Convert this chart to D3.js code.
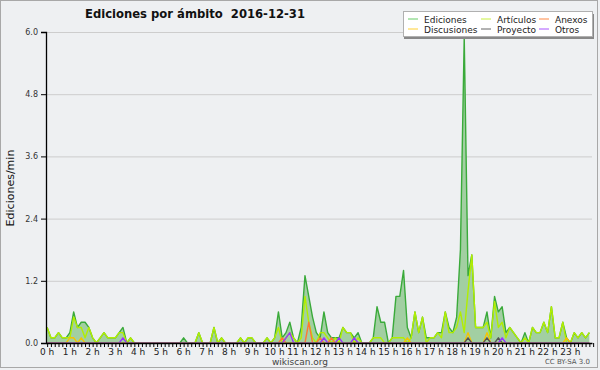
<!DOCTYPE html>
<html>
<head>
<meta charset="utf-8">
<script src="https://cdn.jsdelivr.net/npm/d3@7"></script>
<style>
	body { margin: 0; background: #fff; }
	svg { display: block; }
</style>
</head>
<body>
<div id="chart"></div>
<script>
/* Ediciones por ámbito, 10 minute bins (edits per minute) */

var hourLabels = ["0 h", "1 h", "2 h", "3 h", "4 h", "5 h", "6 h", "7 h", "8 h", "9 h", "10 h", "11 h",
	"12 h", "13 h", "14 h", "15 h", "16 h", "17 h", "18 h", "19 h", "20 h", "21 h", "22 h", "23 h"];

var yTicks = [0, 1.2, 2.4, 3.6, 4.8, 6.0];

var ediciones = [
	0.3,0.1,0.1,0.2,0.1,0.1, 0.2,0.6,0.3,0.4,0.4,0.3,
	0.1,0,0.1,0.2,0.1,0.1, 0.1,0.2,0.3,0,0.1,0,
	0,0,0,0,0,0, 0,0,0,0,0,0,
	0.1,0,0,0,0.2,0, 0,0,0.3,0,0.1,0,
	0,0,0,0.1,0,0.1, 0.1,0,0,0,0.1,0,
	0.1,0.6,0.1,0.2,0.4,0.1, 0,0.3,1.3,0.9,0.5,0.2,
	0.1,0.6,0.2,0.1,0.1,0.1, 0.3,0.2,0.2,0.1,0.2,0,
	0,0,0.1,0.7,0.4,0.4, 0,0.1,0.9,0.9,1.4,0.3,
	0.1,0.6,0.2,0.5,0.1,0.1, 0.1,0.2,0.2,0.6,0.3,0.2,
	0.5,1.8,5.9,1.3,1.7,0.3, 0.3,0.3,0.6,0.1,0.9,0.6,
	0.7,0.2,0.3,0.2,0.1,0, 0.2,0,0.3,0.2,0.2,0.4,
	0.2,0.7,0.1,0.1,0.4,0.1, 0,0.2,0.1,0.2,0.1,0.2
];

var articulos = [
	0.3,0.1,0.1,0.2,0.1,0.1, 0.1,0.5,0.3,0.3,0.1,0.3,
	0.1,0,0.1,0.2,0.1,0.1, 0.1,0.2,0.2,0,0.1,0,
	0,0,0,0,0,0, 0,0,0,0,0,0,
	0,0,0,0,0.2,0, 0,0,0.3,0,0.1,0,
	0,0,0,0.1,0,0.1, 0.1,0,0,0,0.1,0,
	0.1,0.3,0,0.1,0.2,0.1, 0,0.1,0.9,0.4,0.1,0,
	0.2,0.2,0.1,0,0.1,0, 0.3,0.2,0.2,0,0.1,0,
	0,0,0.1,0.1,0.1,0, 0,0.1,0.1,0.1,0.1,0,
	0.1,0.6,0.2,0.5,0,0.1, 0.1,0.2,0.1,0.6,0.2,0.2,
	0.3,0.6,0.2,1.0,1.7,0.3, 0.3,0.3,0.4,0.1,0.8,0.3,
	0.4,0.1,0.3,0.2,0.1,0, 0.1,0,0.3,0.2,0.2,0.4,
	0.2,0.7,0.1,0.1,0.4,0, 0,0.2,0.1,0.2,0.1,0.2
];

var anexos = [
	0,0,0,0,0,0, 0,0,0,0,0,0,
	0,0,0,0,0,0, 0,0,0,0,0,0,
	0,0,0,0,0,0, 0,0,0,0,0,0,
	0,0,0,0,0,0, 0,0,0,0,0,0,
	0,0,0,0,0,0, 0,0,0,0,0,0,
	0,0,0.1,0,0,0, 0,0,0,0.4,0,0,
	0.1,0,0,0.1,0,0, 0,0,0,0,0,0,
	0,0,0,0,0,0, 0,0,0,0,0,0,
	0,0,0,0,0,0, 0,0,0,0,0,0,
	0,0,0,0,0,0, 0,0,0,0,0,0,
	0,0,0,0,0,0, 0,0,0,0,0,0,
	0,0,0,0,0,0, 0,0,0,0,0,0
];

var discusiones = [
	0,0,0,0,0,0, 0.1,0.1,0,0.1,0,0,
	0,0,0,0,0,0, 0,0,0,0,0,0,
	0,0,0,0,0,0, 0,0,0,0,0,0,
	0,0,0,0,0,0, 0,0,0,0,0,0,
	0,0,0,0,0,0, 0,0,0,0,0,0,
	0,0,0,0,0,0, 0,0,0,0,0,0,
	0,0,0,0,0,0, 0,0,0,0,0,0,
	0,0,0,0,0,0, 0,0,0,0,0,0.1,
	0,0,0,0,0,0, 0,0,0,0,0,0,
	0,0,0,0.2,0,0, 0,0,0.2,0,0,0,
	0,0,0,0,0,0, 0,0,0,0,0,0,
	0,0,0,0,0,0.1, 0,0,0,0,0,0
];

var proyecto = [
	0,0,0,0,0,0, 0,0,0,0,0,0,
	0,0,0,0,0,0, 0,0,0,0,0,0,
	0,0,0,0,0,0, 0,0,0,0,0,0,
	0,0,0,0,0,0, 0,0,0,0,0,0,
	0,0,0,0,0,0, 0,0,0,0,0,0,
	0,0,0,0,0,0, 0,0,0,0,0,0,
	0,0,0,0,0,0, 0,0,0,0,0,0,
	0,0,0,0,0,0, 0,0,0,0,0,0,
	0,0,0,0,0,0, 0,0,0,0,0,0,
	0,0,0,0.1,0,0, 0,0,0.1,0,0,0.1,
	0,0,0,0,0,0, 0,0,0,0,0,0,
	0,0,0,0,0,0, 0,0,0,0,0,0
];

var otros = [
	0,0,0,0,0,0, 0,0,0,0,0,0,
	0,0,0,0,0,0, 0,0,0.1,0,0,0,
	0,0,0,0,0,0, 0,0,0,0,0,0,
	0,0,0,0,0,0, 0,0,0,0,0,0,
	0,0,0,0,0,0, 0,0,0,0,0,0,
	0,0,0,0.1,0.2,0, 0,0,0,0,0,0,
	0,0.1,0,0,0,0.1, 0,0,0,0.1,0,0,
	0,0,0,0,0,0, 0,0,0,0,0,0,
	0,0,0,0,0,0, 0,0,0,0,0,0,
	0,0,0,0,0,0, 0,0,0,0,0,0,
	0.1,0,0,0,0,0, 0,0,0,0,0,0,
	0,0,0,0,0,0, 0,0,0,0,0,0
];

var width = 600,
	height = 370,
	plot = { left: 46, right: 592, top: 32, bottom: 343 };

var svg = d3.select("#chart").append("svg")
	.attr("width", width)
	.attr("height", height)
	.style("font-family", "DejaVu Sans, sans-serif");

// background + frame
svg.append("rect").attr("x", 0).attr("y", 0).attr("width", width).attr("height", height).attr("fill", "#eef0f2");
svg.append("rect").attr("x", 0.5).attr("y", 0.5).attr("width", 597).attr("height", 367)
	.attr("fill", "none").attr("stroke", "#a8a8a8");

svg.append("clipPath").attr("id", "plotclip")
	.append("rect").attr("x", plot.left).attr("y", 0)
	.attr("width", plot.right - plot.left + 2).attr("height", plot.bottom - 0.6);

var x = d3.scaleLinear().domain([-0.3, 143.7]).range([plot.left, plot.right]);
var y = d3.scaleLinear().domain([0, 6]).range([plot.bottom, plot.top]);

/* grid */
svg.append("g").selectAll("line")
	.data(yTicks.filter(function(d) { return d > 0; }))
	.enter().append("line")
	.attr("x1", plot.left).attr("x2", plot.right)
	.attr("y1", function(d) { return y(d) + 0.5; })
	.attr("y2", function(d) { return y(d) + 0.5; })
	.attr("stroke", "#cdcdcd");

/* series */
var area = d3.area()
	.x(function(d, i) { return x(i); })
	.y0(y(0))
	.y1(function(d) { return y(d); });
var line = d3.line()
	.x(function(d, i) { return x(i); })
	.y(function(d) { return y(d); });

var marks = svg.append("g").attr("clip-path", "url(#plotclip)");
marks.append("path").datum(ediciones).attr("d", area).attr("fill", "#a2cfa2");

var series = [
	{ label: "Ediciones", values: ediciones, color: "#3aaa3a", key: "#66cc66" },
	{ label: "Artículos", values: articulos, color: "#b2ee00", key: "#c8f040" },
	{ label: "Anexos", values: anexos, color: "#ff7733", key: "#ff8844" },
	{ label: "Discusiones", values: discusiones, color: "#f5c400", key: "#ffd033" },
	{ label: "Proyecto", values: proyecto, color: "#555555", key: "#666666" },
	{ label: "Otros", values: otros, color: "#9933ff", key: "#aa55ff" }
];

marks.selectAll("path.serie")
	.data(series)
	.enter().append("path")
	.attr("class", "serie")
	.attr("d", function(d) { return line(d.values); })
	.attr("fill", "none")
	.attr("stroke", function(d) { return d.color; })
	.attr("stroke-width", 1.4)
	.attr("stroke-linejoin", "round");

/* axes */
var yAxis = svg.append("g").attr("transform", "translate(" + plot.left + ",0)");
yAxis.call(d3.axisLeft(y).tickValues(d3.range(0, 6.01, 0.3)).tickSize(3).tickFormat(""));
yAxis.call(d3.axisLeft(y).tickValues(yTicks).tickSize(5).tickFormat(d3.format(".1f")));
yAxis.selectAll(".domain").attr("stroke", "#000").attr("stroke-width", 1.3);
yAxis.selectAll("text").attr("font-size", 8).attr("fill", "#333").attr("font-family", "DejaVu Sans, sans-serif");

var xAxis = svg.append("g").attr("transform", "translate(0," + plot.bottom + ")");
xAxis.call(d3.axisBottom(x).tickValues(d3.range(0, 145)).tickSize(4).tickFormat("").tickSizeOuter(0));
xAxis.selectAll(".domain").attr("stroke", "#000").attr("stroke-width", 1.3);

svg.append("g").selectAll("text")
	.data(hourLabels)
	.enter().append("text")
	.attr("x", function(d, i) { return x(i * 6); })
	.attr("y", 355)
	.attr("text-anchor", "middle")
	.attr("font-size", 9)
	.attr("fill", "#222")
	.text(function(d) { return d; });

/* texts */
svg.append("text")
	.attr("x", 85).attr("y", 18)
	.attr("font-size", 11.6).attr("font-weight", "bold").attr("fill", "#111")
	.attr("xml:space", "preserve")
	.text("Ediciones por ámbito  2016-12-31");

svg.append("text")
	.attr("transform", "translate(14,188) rotate(-90)")
	.attr("text-anchor", "middle")
	.attr("font-size", 11).attr("fill", "#111")
	.text("Ediciones/min");

svg.append("text")
	.attr("x", 300).attr("y", 365)
	.attr("text-anchor", "middle")
	.attr("font-size", 9).attr("fill", "#444")
	.text("wikiscan.org");

svg.append("text")
	.attr("x", 590).attr("y", 364)
	.attr("text-anchor", "end")
	.attr("font-size", 7).attr("fill", "#555")
	.text("CC BY-SA 3.0");

/* legend */
var legend = svg.append("g");
legend.append("rect").attr("x", 404).attr("y", 14).attr("width", 190).attr("height", 25).attr("fill", "#888");
legend.append("rect").attr("x", 403.5).attr("y", 11.5).attr("width", 189).attr("height", 25)
	.attr("fill", "#fff").attr("stroke", "#b0b0b0");

var cols = [408, 481, 539],
	rows = [19, 29];
var item = legend.selectAll("g.item")
	.data(series)
	.enter().append("g")
	.attr("class", "item")
	.attr("transform", function(d, i) {
		return "translate(" + cols[i % 3] + "," + rows[Math.floor(i / 3)] + ")";
	});
item.append("line").attr("x1", 0).attr("x2", 10)
	.attr("stroke", function(d) { return d.key; });
item.append("text").attr("x", 16).attr("y", 3.5)
	.attr("font-size", 9).attr("fill", "#222")
	.text(function(d) { return d.label; });
</script>
</body>
</html>
